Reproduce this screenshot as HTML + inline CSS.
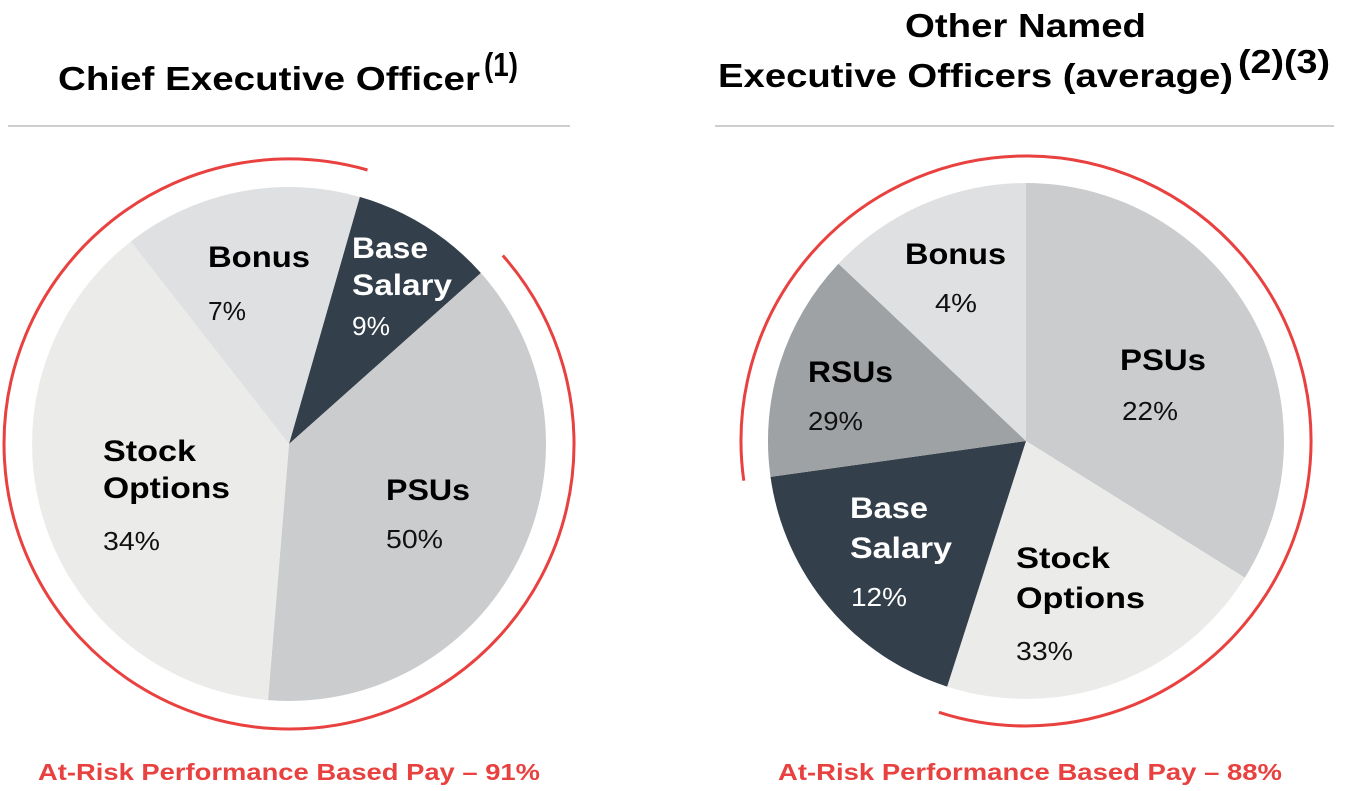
<!DOCTYPE html>
<html><head><meta charset="utf-8"><style>
html,body{margin:0;padding:0;background:#fff;}
svg{display:block;}
text{font-family:"Liberation Sans",Arial,sans-serif;}
.b{font-weight:bold;font-size:30px;fill:#000;}
.p{font-size:26px;fill:#111;}
.w{fill:#fff;}
.t{font-weight:bold;font-size:33px;fill:#000;}
.r{font-weight:bold;font-size:23px;fill:#e8413f;}
</style></head><body>
<svg width="1347" height="791" viewBox="0 0 1347 791">
<text class="t" x="58" y="90" textLength="422" lengthAdjust="spacingAndGlyphs">Chief Executive Officer</text>
<text class="t" x="484" y="76" font-size="21" textLength="34" lengthAdjust="spacingAndGlyphs">(1)</text>
<text class="t" x="905" y="37" textLength="241" lengthAdjust="spacingAndGlyphs">Other Named</text>
<text class="t" x="718" y="87" textLength="515" lengthAdjust="spacingAndGlyphs">Executive Officers (average)</text>
<text class="t" x="1238" y="73" font-size="21" textLength="92" lengthAdjust="spacingAndGlyphs">(2)(3)</text>
<line x1="8" y1="126" x2="570" y2="126" stroke="#bdbdbd" stroke-width="1.5"/>
<line x1="715" y1="126" x2="1334" y2="126" stroke="#bdbdbd" stroke-width="1.5"/>

<path d="M289,444 L359.8,196.9 A257,257 0 0 1 480.9,273.0 Z" fill="#333f4a"/>
<path d="M289,444 L480.9,273.0 A257,257 0 0 1 268.0,700.1 Z" fill="#cbcccd"/>
<path d="M289,444 L268.0,700.1 A257,257 0 0 1 130.8,241.5 Z" fill="#ebebea"/>
<path d="M289,444 L130.8,241.5 A257,257 0 0 1 359.8,196.9 Z" fill="#dfe0e1"/>
<path d="M502.8,255.5 A285,285 0 1 1 367.5,170.0" fill="none" stroke="#e8413f" stroke-width="3"/>
<text class="b" x="208" y="267" textLength="102" lengthAdjust="spacingAndGlyphs">Bonus</text><text class="p" x="208" y="320" textLength="38" lengthAdjust="spacingAndGlyphs">7%</text>
<text class="b w" x="352" y="258" textLength="76" lengthAdjust="spacingAndGlyphs">Base</text><text class="b w" x="352" y="295" textLength="100" lengthAdjust="spacingAndGlyphs">Salary</text><text class="p w" x="352" y="335" textLength="38" lengthAdjust="spacingAndGlyphs">9%</text>
<text class="b" x="103" y="461" textLength="93" lengthAdjust="spacingAndGlyphs">Stock</text><text class="b" x="103" y="498" textLength="127" lengthAdjust="spacingAndGlyphs">Options</text><text class="p" x="103" y="550" textLength="57" lengthAdjust="spacingAndGlyphs">34%</text>
<text class="b" x="386" y="500" textLength="84" lengthAdjust="spacingAndGlyphs">PSUs</text><text class="p" x="386" y="548" textLength="57" lengthAdjust="spacingAndGlyphs">50%</text>

<path d="M1026,441 L1026,183 A258,258 0 0 1 1244.8,577.7 Z" fill="#cbcccd"/>
<path d="M1026,441 L1244.8,577.7 A258,258 0 0 1 947.1,686.6 Z" fill="#ebebea"/>
<path d="M1026,441 L947.1,686.6 A258,258 0 0 1 770.5,476.9 Z" fill="#333f4a"/>
<path d="M1026,441 L770.5,476.9 A258,258 0 0 1 838.5,263.7 Z" fill="#9ea2a4"/>
<path d="M1026,441 L838.5,263.7 A258,258 0 0 1 1026,183 Z" fill="#dfe0e1"/>
<path d="M743.8,480.7 A285,285 0 1 1 938.9,712.3" fill="none" stroke="#e8413f" stroke-width="3"/>
<text class="b" x="905" y="264" textLength="101" lengthAdjust="spacingAndGlyphs">Bonus</text><text class="p" x="935" y="312" textLength="42" lengthAdjust="spacingAndGlyphs">4%</text>
<text class="b" x="808" y="382" textLength="85" lengthAdjust="spacingAndGlyphs">RSUs</text><text class="p" x="808" y="430" textLength="55" lengthAdjust="spacingAndGlyphs">29%</text>
<text class="b" x="1120" y="370" textLength="86" lengthAdjust="spacingAndGlyphs">PSUs</text><text class="p" x="1122" y="420" textLength="56" lengthAdjust="spacingAndGlyphs">22%</text>
<text class="b w" x="850" y="518" textLength="78" lengthAdjust="spacingAndGlyphs">Base</text><text class="b w" x="850" y="558" textLength="102" lengthAdjust="spacingAndGlyphs">Salary</text><text class="p w" x="851" y="606" textLength="56" lengthAdjust="spacingAndGlyphs">12%</text>
<text class="b" x="1016" y="568" textLength="94" lengthAdjust="spacingAndGlyphs">Stock</text><text class="b" x="1016" y="608" textLength="129" lengthAdjust="spacingAndGlyphs">Options</text><text class="p" x="1016" y="660" textLength="57" lengthAdjust="spacingAndGlyphs">33%</text>

<text class="r" x="38" y="780" textLength="502" lengthAdjust="spacingAndGlyphs">At-Risk Performance Based Pay – 91%</text>
<text class="r" x="778" y="780" textLength="504" lengthAdjust="spacingAndGlyphs">At-Risk Performance Based Pay – 88%</text>
</svg>
</body></html>
